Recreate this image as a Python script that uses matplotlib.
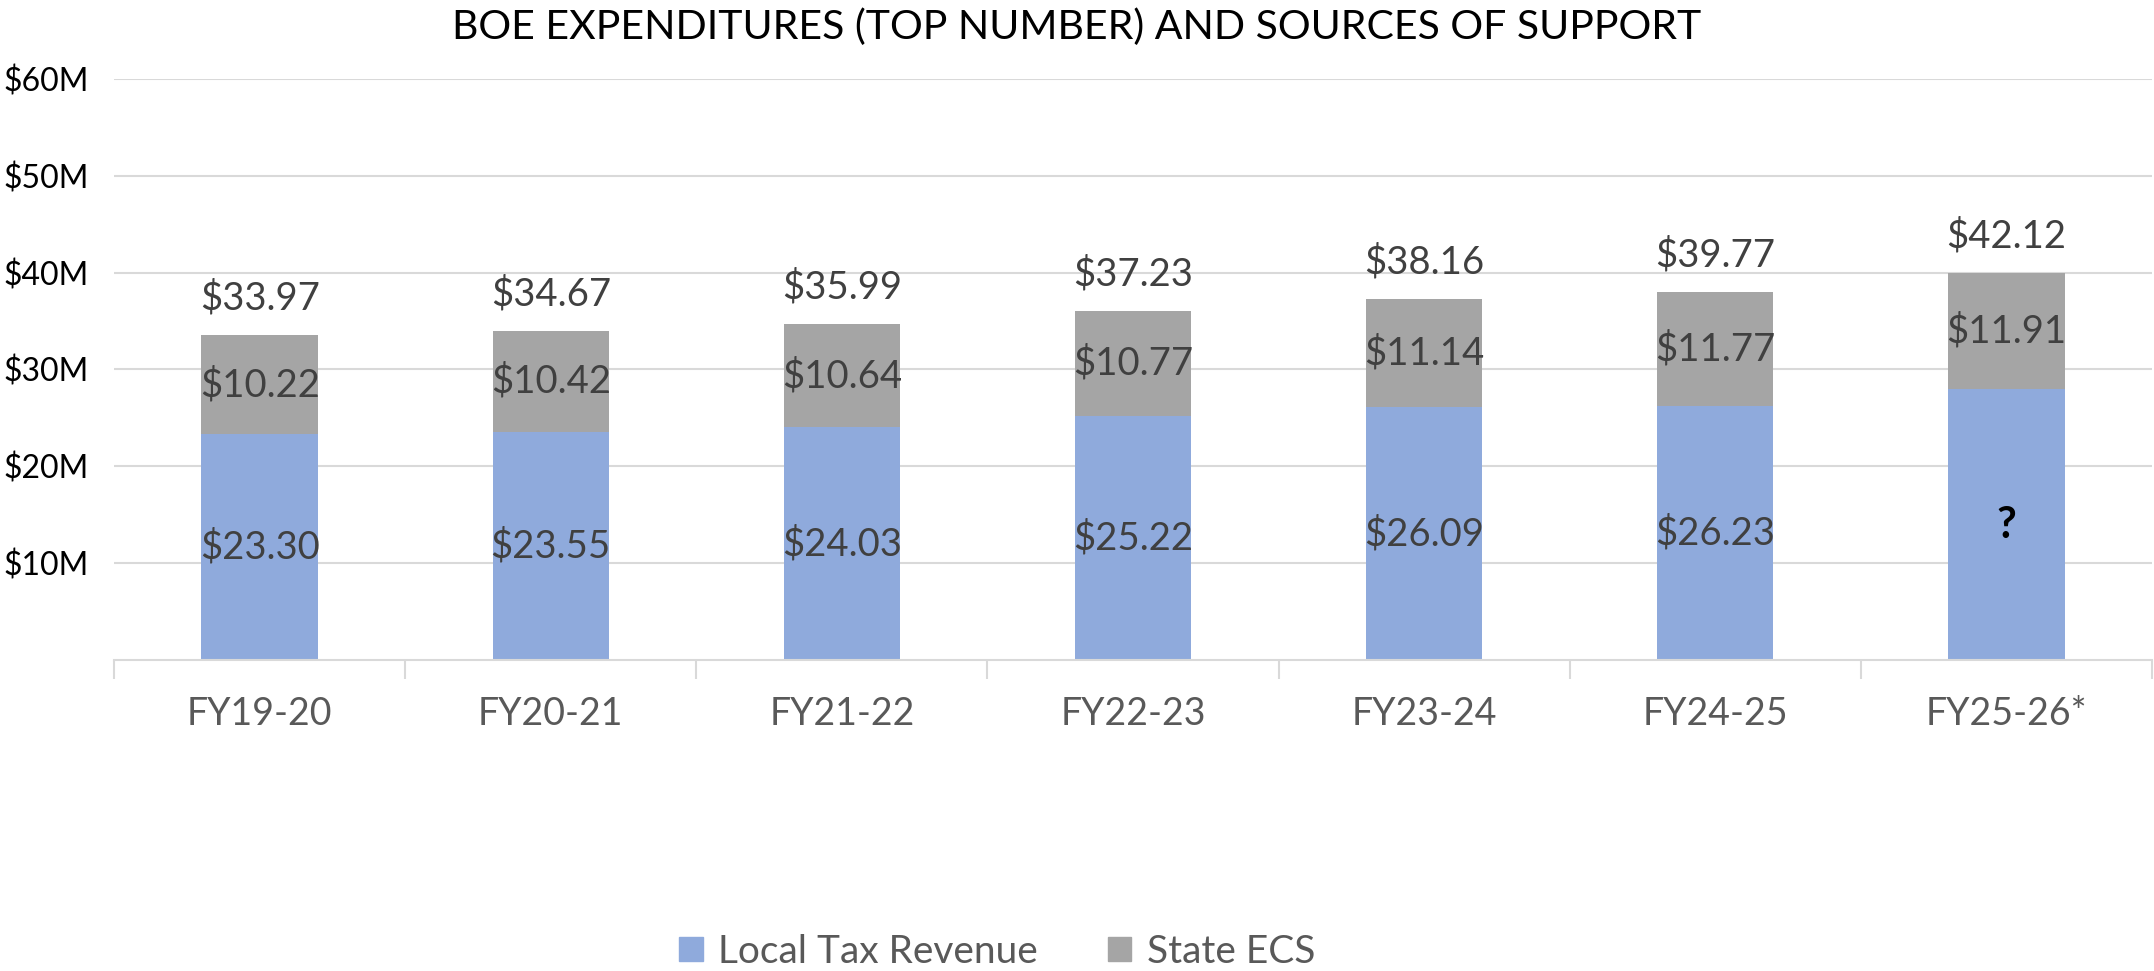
import matplotlib
matplotlib.use("Agg")
import matplotlib.pyplot as plt
import matplotlib.patches as mpatches
from matplotlib.ticker import FuncFormatter, FixedLocator

plt.rcParams['font.family'] = ['Lato', 'DejaVu Sans']

years = ['FY19-20', 'FY20-21', 'FY21-22', 'FY22-23', 'FY23-24', 'FY24-25', 'FY25-26*']
local_tax = [23.30, 23.55, 24.03, 25.22, 26.09, 26.23, 28.00]
state_ecs = [10.22, 10.42, 10.64, 10.77, 11.14, 11.77, 11.91]
expenditures = [33.97, 34.67, 35.99, 37.23, 38.16, 39.77, 42.12]
local_labels = ['$23.30', '$23.55', '$24.03', '$25.22', '$26.09', '$26.23', '?']

BLUE = '#8FAADC'
GRAY = '#A5A5A5'
LABEL_COLOR = '#404040'

fig = plt.figure(figsize=(21.54, 9.71), dpi=100)
ax = fig.add_axes([0.053, 0.320, 0.946, 0.599])

x = list(range(len(years)))
ax.bar(x, local_tax, width=0.4, color=BLUE, zorder=2)
ax.bar(x, state_ecs, width=0.4, bottom=local_tax, color=GRAY, zorder=2)

for i in x:
    lab = local_labels[i]
    if lab == '?':
        ax.text(i, local_tax[i] / 2, lab, ha='center', va='center',
                fontsize=31, fontweight='bold', color='black', zorder=3)
    else:
        ax.text(i, local_tax[i] / 2, lab, ha='center', va='center',
                fontsize=27.5, color=LABEL_COLOR, zorder=3)
    ax.text(i, local_tax[i] + state_ecs[i] / 2, f'${state_ecs[i]:.2f}',
            ha='center', va='center', fontsize=27.5, color=LABEL_COLOR, zorder=3)
    ax.text(i, local_tax[i] + state_ecs[i] + 3.8, f'${expenditures[i]:.2f}',
            ha='center', va='center', fontsize=27.5, color=LABEL_COLOR, zorder=3)

ax.set_xlim(-0.5, len(years) - 0.5)
ax.set_ylim(0, 60)
ax.set_yticks(range(10, 61, 10))
ax.yaxis.set_major_formatter(FuncFormatter(lambda v, p: f'${v:.0f}M'))
ax.grid(axis='y', color='#D9D9D9', linewidth=1.5, zorder=0)

ax.set_xticks(x)
ax.set_xticklabels(years)
ax.xaxis.set_minor_locator(FixedLocator([i - 0.5 for i in range(len(years) + 1)]))
ax.tick_params(axis='x', which='major', length=0, pad=26, labelsize=27, labelcolor='#595959')
ax.tick_params(axis='x', which='minor', length=14, width=1.5, color='#D9D9D9')
ax.tick_params(axis='y', length=0, pad=18, labelsize=23, labelcolor='black')

for s in ('top', 'right', 'left'):
    ax.spines[s].set_visible(False)
ax.spines['bottom'].set_color('#D9D9D9')
ax.spines['bottom'].set_linewidth(1.5)

fig.text(0.5, 0.972, 'BOE EXPENDITURES (TOP NUMBER) AND SOURCES OF SUPPORT',
         ha='center', va='center', fontsize=29.5, color='black')

handles = [mpatches.Patch(color=BLUE, label='Local Tax Revenue'),
           mpatches.Patch(color=GRAY, label='State ECS')]
fig.legend(handles=handles, loc='center', bbox_to_anchor=(0.463, 0.02),
           ncol=2, frameon=False, fontsize=28, labelcolor='#595959',
           handlelength=0.6, handleheight=0.6, handletextpad=0.4, columnspacing=1.8)

fig.savefig('out.png', dpi=100, facecolor='white')
